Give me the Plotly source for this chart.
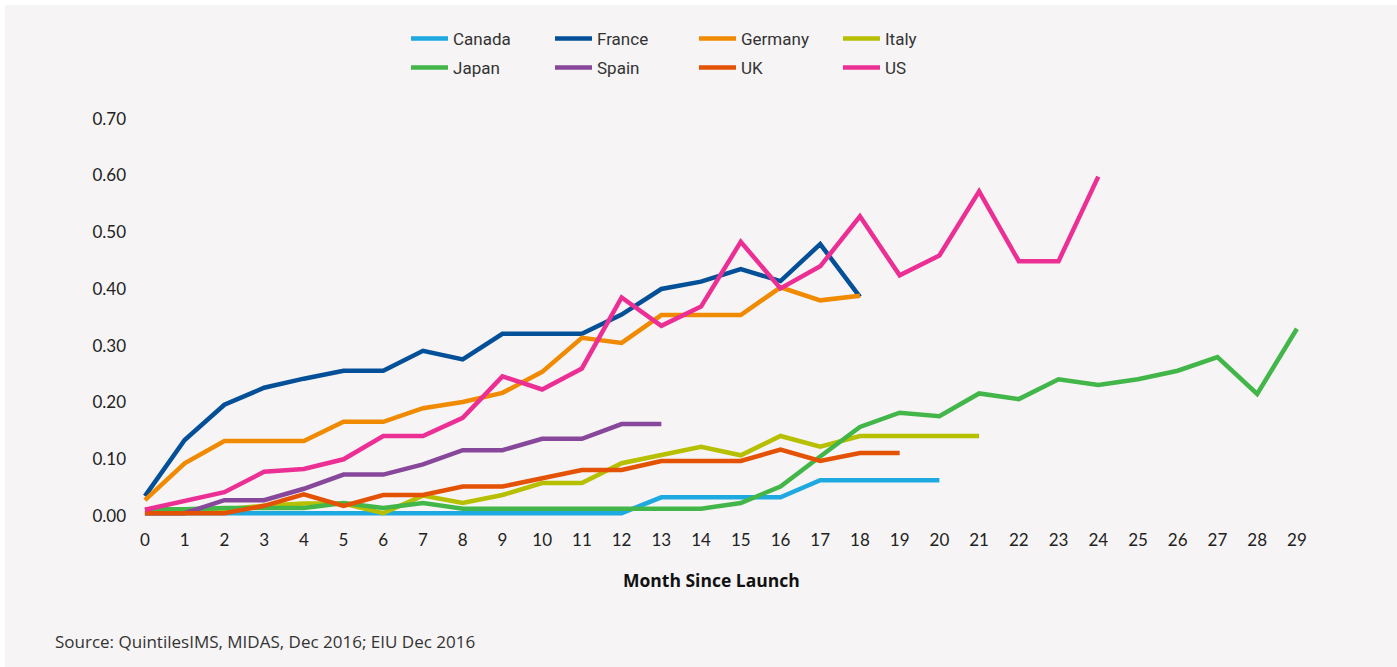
import plotly.graph_objects as go

months = list(range(30))

canada = [0.005] * 13 + [0.033, 0.033, 0.033, 0.033, 0.063, 0.063, 0.063, 0.063]
france = [0.035, 0.134, 0.196, 0.226, 0.242, 0.256, 0.256, 0.291, 0.276, 0.321,
          0.321, 0.321, 0.355, 0.400, 0.413, 0.435, 0.414, 0.479, 0.386]
germany = [0.028, 0.093, 0.132, 0.132, 0.132, 0.166, 0.166, 0.190, 0.201, 0.217,
           0.254, 0.314, 0.305, 0.354, 0.354, 0.354, 0.403, 0.380, 0.388]
italy = [0.010, 0.010, 0.012, 0.018, 0.022, 0.022, 0.005, 0.036, 0.023, 0.037,
         0.058, 0.058, 0.093, 0.107, 0.122, 0.107, 0.141, 0.122, 0.141, 0.141,
         0.141, 0.141]
japan = [0.012, 0.012, 0.014, 0.014, 0.014, 0.023, 0.014, 0.023, 0.013, 0.013,
         0.013, 0.013, 0.013, 0.013, 0.013, 0.023, 0.052, 0.105, 0.157, 0.182,
         0.176, 0.216, 0.206, 0.241, 0.231, 0.241, 0.256, 0.280, 0.215, 0.330]
spain = [0.005, 0.005, 0.028, 0.028, 0.048, 0.073, 0.073, 0.091, 0.116, 0.116,
         0.136, 0.136, 0.162, 0.162]
uk = [0.005, 0.005, 0.005, 0.018, 0.038, 0.018, 0.037, 0.037, 0.052, 0.052,
      0.067, 0.081, 0.081, 0.097, 0.097, 0.097, 0.117, 0.097, 0.111, 0.111]
us = [0.011, 0.026, 0.042, 0.078, 0.083, 0.100, 0.141, 0.141, 0.173, 0.246,
      0.223, 0.260, 0.385, 0.335, 0.369, 0.483, 0.401, 0.440, 0.528, 0.424,
      0.459, 0.572, 0.449, 0.449, 0.598]

series = [
    ('Canada', canada, '#1fa9e1', 'legend'),
    ('France', france, '#034f98', 'legend'),
    ('Germany', germany, '#f08a00', 'legend'),
    ('Italy', italy, '#b6bf00', 'legend'),
    ('Japan', japan, '#43b649', 'legend2'),
    ('Spain', spain, '#87479a', 'legend2'),
    ('UK', uk, '#e35205', 'legend2'),
    ('US', us, '#ec2f94', 'legend2'),
]

bg = '#f6f4f5'
font = 'Lato, "Open Sans", sans-serif'
W, H = 1392, 662

fig = go.Figure()
for name, vals, col, lg in series:
    fig.add_trace(go.Scatter(x=months[:len(vals)], y=vals, name=name, mode='lines',
                             line=dict(color=col, width=4.5), legend=lg))

# two legends, one per row of four
leg = dict(orientation='h', xref='container', yref='container', xanchor='left',
           yanchor='middle', bgcolor='rgba(0,0,0,0)', entrywidth=92,
           entrywidthmode='pixels', itemwidth=37,
           font=dict(family='"Liberation Sans Narrow", Roboto, sans-serif', size=17,
                     color='#333'),
           tracegroupgap=0)

fig.update_layout(
    width=W, height=H,
    paper_bgcolor=bg, plot_bgcolor=bg,
    margin=dict(l=130, r=87, t=95, b=147),
    font=dict(family=font, size=17, color='#222'),
    showlegend=True,
    legend=dict(leg, x=401 / W, y=1 - 34 / H),
    legend2=dict(leg, x=401 / W, y=1 - 63 / H),
    xaxis=dict(range=[-0.25, 29.33], tickmode='linear', dtick=1, showgrid=False,
               zeroline=False, showline=False, ticks='', ticklabelstandoff=8,
               tickfont=dict(size=17, color='#222')),
    yaxis=dict(range=[-0.007, 0.733], tickmode='linear', dtick=0.1, tick0=0,
               tickformat='.2f', showgrid=False, zeroline=False, showline=False,
               ticks='', ticklabelstandoff=8, tickfont=dict(size=17, color='#222')),
)

fig.add_annotation(text='<b>Month Since Launch</b>', xref='paper', yref='paper',
                   x=(706 - 130) / 1175, y=-60 / 420, yanchor='middle',
                   showarrow=False,
                   font=dict(family='"Open Sans", sans-serif', size=17.5, color='#111'))
fig.add_annotation(text='Source: QuintilesIMS, MIDAS, Dec 2016; EIU Dec 2016',
                   xref='paper', yref='paper', x=-82 / 1175, xanchor='left',
                   y=-121 / 420, yanchor='middle', showarrow=False,
                   font=dict(family='"Open Sans", sans-serif', size=17, color='#333'))

fig.write_html("out.html",
               post_script="document.body.style.margin='5px 0 0 5px';")
